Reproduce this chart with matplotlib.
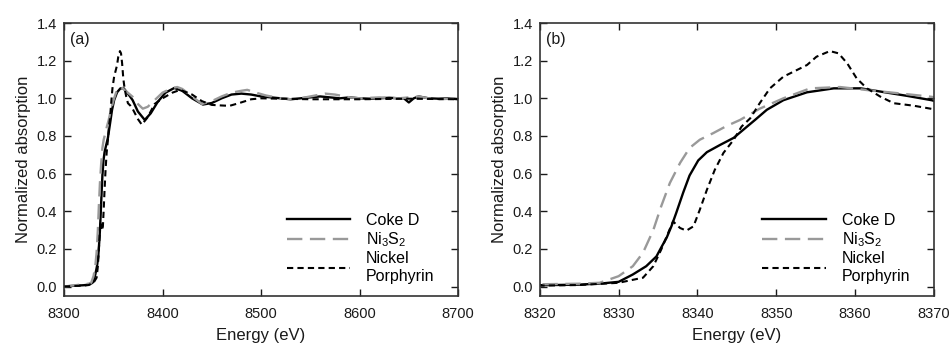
import matplotlib.pyplot as plt

plt.rcParams['font.family'] = ['Liberation Sans', 'DejaVu Sans']
plt.rcParams['mathtext.fontset'] = 'custom'
plt.rcParams['mathtext.rm'] = 'Liberation Sans'
plt.rcParams['mathtext.it'] = 'Liberation Sans'

# ---- data (energy in eV, normalized absorption) ----
coke_e = [8300, 8310, 8320, 8325, 8328, 8330, 8331.8, 8333.5, 8334.8, 8335.4,
          8336.1, 8336.7, 8337.3, 8338.2, 8339.0, 8340.1, 8341.2, 8342.9,
          8344.6, 8346.3, 8347.3, 8348.8, 8350.9, 8353.9, 8357.3, 8360.7,
          8363.2, 8366.6, 8369.7, 8375, 8382, 8388, 8395, 8403, 8412, 8420,
          8430, 8441, 8450, 8460, 8470, 8480, 8490, 8500, 8510, 8520, 8530,
          8540, 8550, 8560, 8570, 8580, 8590, 8600, 8610, 8620, 8630, 8640,
          8645, 8650, 8655, 8660, 8670, 8680, 8690, 8700]
coke_y = [0.0, 0.004, 0.007, 0.010, 0.017, 0.025, 0.064, 0.108, 0.16, 0.207,
          0.26, 0.32, 0.39, 0.50, 0.59, 0.67, 0.714, 0.753,
          0.79, 0.85, 0.885, 0.939, 0.99, 1.032, 1.053, 1.053,
          1.036, 1.013, 0.99, 0.93, 0.885, 0.92, 0.98, 1.03, 1.055, 1.04,
          1.0, 0.967, 0.975, 1.0, 1.02, 1.025, 1.02, 1.01, 1.005, 1.0, 0.995,
          1.0, 1.005, 1.01, 1.005, 1.0, 1.005, 1.0, 0.998, 1.0, 1.003, 1.0,
          1.0, 0.978, 1.0, 1.01, 1.0, 0.998, 1.0, 0.995]

ni3s2_e = [8300, 8310, 8320, 8325, 8327.6, 8330, 8331.8, 8333.1, 8334.4,
           8335.4, 8336.5, 8337.8, 8339.0, 8340.3, 8342.0, 8343.7, 8345.4,
           8347.9, 8350.9, 8354.3, 8358.1, 8361.5, 8365.7, 8369.7, 8375,
           8380, 8385, 8390, 8400, 8410, 8415, 8420, 8430, 8440, 8450, 8460,
           8470, 8480, 8486, 8495, 8505, 8520, 8530, 8540, 8555, 8565, 8575,
           8590, 8600, 8620, 8640, 8660, 8670, 8680, 8700]
ni3s2_y = [0.0, 0.006, 0.012, 0.015, 0.02, 0.055, 0.108, 0.18, 0.30,
           0.426, 0.55, 0.657, 0.736, 0.78, 0.815, 0.853, 0.885,
           0.945, 1.0, 1.053, 1.06, 1.044, 1.026, 1.008, 0.97,
           0.945, 0.955, 0.98, 1.03, 1.055, 1.06, 1.05, 1.01, 0.97, 0.985, 1.01,
           1.03, 1.04, 1.045, 1.03, 1.015, 1.0, 0.995, 1.0, 1.015, 1.025, 1.02,
           1.005, 1.0, 1.005, 1.0, 1.01, 1.0, 0.995, 1.0]

porph_e = [8300, 8310, 8320, 8325, 8330, 8333.1, 8334.4, 8335.4, 8336.3,
           8336.9, 8337.8, 8338.6, 8339.5, 8340.3, 8341.2, 8342.2, 8343.3,
           8344.6, 8345.6, 8346.7, 8347.9, 8349.2, 8350.9, 8352.6, 8353.9,
           8355.1, 8356.8, 8357.9, 8359.0, 8360.2, 8361.5, 8363.2, 8364.9,
           8367.4, 8369.7, 8375, 8379, 8385, 8392, 8400, 8410, 8418, 8430,
           8440, 8450, 8460, 8468, 8478, 8490, 8500, 8520, 8550, 8600, 8650,
           8700]
porph_y = [0.0, 0.003, 0.005, 0.008, 0.02, 0.047, 0.108, 0.196, 0.286,
           0.346, 0.311, 0.297, 0.32, 0.408, 0.514, 0.62, 0.71,
           0.78, 0.85, 0.894, 0.974, 1.053, 1.115, 1.15, 1.177,
           1.221, 1.251, 1.239, 1.186, 1.106, 1.053, 1.009, 0.974,
           0.961, 0.944, 0.89, 0.86, 0.90, 0.97, 1.0, 1.03, 1.045, 1.02,
           0.985, 0.965, 0.962, 0.96, 0.975, 0.995, 1.0, 0.998, 0.995, 0.995,
           0.998, 0.995]

panels = ['(a)', '(b)']
xlims = [(8300, 8700), (8320, 8370)]
xticks = [[8300, 8400, 8500, 8600, 8700], [8320, 8330, 8340, 8350, 8360, 8370]]
yticks = [0.0, 0.2, 0.4, 0.6, 0.8, 1.0, 1.2, 1.4]

fig = plt.figure(figsize=(9.52, 3.49), dpi=100)
axes = [fig.add_axes([0.0672, 0.152, 0.414, 0.782]),
        fig.add_axes([0.567, 0.152, 0.414, 0.782])]

for ax, tag, xl, xt in zip(axes, panels, xlims, xticks):
    ax.plot(coke_e, coke_y, color='black', lw=1.7, label='Coke D')
    ax.plot(ni3s2_e, ni3s2_y, color='#999999', lw=1.7, dashes=(6.5, 3.2),
            label='Ni$_3$S$_2$')
    ax.plot(porph_e, porph_y, color='black', lw=1.5, dashes=(3.0, 2.0),
            label='Nickel\nPorphyrin')

    ax.set_xlim(*xl)
    ax.set_ylim(-0.05, 1.4)
    ax.set_xticks(xt)
    ax.set_yticks(yticks)
    ax.set_yticklabels([f'{v:.1f}' for v in yticks])
    ax.tick_params(direction='in', length=5, width=1, top=True, right=True,
                   labelsize=10.5, colors='#1a1a1a')
    ax.tick_params(axis='x', pad=8)
    ax.tick_params(axis='y', pad=5)
    for sp in ax.spines.values():
        sp.set_linewidth(1.2)
        sp.set_color('#333333')

    ax.set_xlabel('Energy (eV)', fontsize=12, color='#1a1a1a', labelpad=5)
    ax.set_ylabel('Normalized absorption', fontsize=12, color='#1a1a1a', labelpad=4)
    ax.text(0.015, 0.94, tag, transform=ax.transAxes, fontsize=11.5,
            va='center', ha='left', color='#1a1a1a')

    ax.legend(loc='upper left', bbox_to_anchor=(0.565, 0.305), frameon=False,
              fontsize=11.5, handlelength=3.95, handletextpad=1.0,
              labelspacing=0.15, borderpad=0, borderaxespad=0)

plt.savefig('out.png', dpi=100)
